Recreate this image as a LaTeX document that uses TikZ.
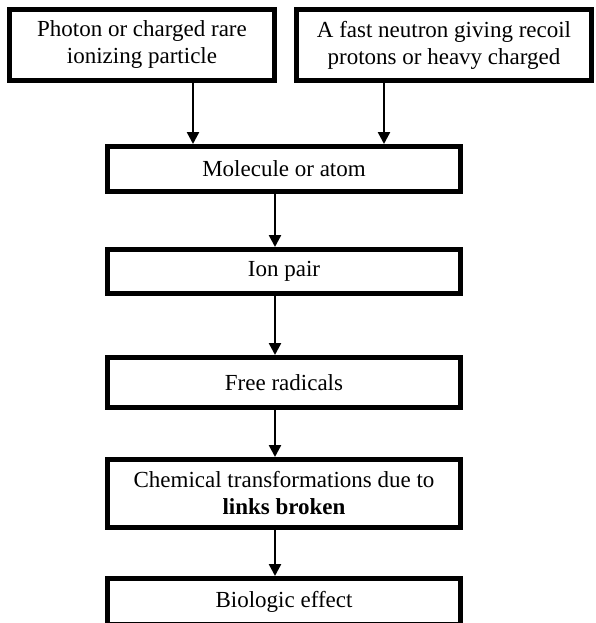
\documentclass[tikz,border=0pt]{standalone}
\usepackage{fontspec}
\setmainfont{Liberation Serif}
\usetikzlibrary{arrows.meta}
\begin{document}
\begin{tikzpicture}[x=1pt, y=-1pt,
    box/.style={draw, line width=5pt, inner sep=0pt, align=center,
        font=\fontsize{23}{27}\selectfont},
    flow/.style={line width=2.5pt, -{Triangle[width=12pt,length=12pt]}}]
    \useasboundingbox (0,0) rectangle (595,623);
    % sources
    \node[box, minimum width=265pt, minimum height=71pt] (photon) at (142,45)
        {Photon or charged rare\\ionizing particle};
    \node[box, minimum width=295pt, minimum height=71pt] (neutron) at (444,45)
        {A fast neutron giving recoil\\protons or heavy charged};
    % chain
    \node[box, minimum width=353pt, minimum height=45pt] (molecule) at (284,169) {Molecule or atom};
    \node[box, minimum width=353pt, minimum height=44pt] (ionpair) at (284,271.5) {Ion pair};
    \node[box, minimum width=353pt, minimum height=50pt] (radicals) at (284,382.5) {Free radicals};
    \node[box, minimum width=353pt, minimum height=68pt] (chemical) at (284,493.5)
        {Chemical transformations due to\\\textbf{links broken}};
    \node[box, minimum width=353pt, minimum height=46pt] (biologic) at (284,601.5) {Biologic effect};
    % arrows
    \coordinate (xa) at (193,0);
    \coordinate (xb) at (384,0);
    \coordinate (xc) at (275,0);
    \draw[flow] (photon.south -| xa) -- (molecule.north -| xa);
    \draw[flow] (neutron.south -| xb) -- (molecule.north -| xb);
    \draw[flow] (molecule.south -| xc) -- (ionpair.north -| xc);
    \draw[flow] (ionpair.south -| xc) -- (radicals.north -| xc);
    \draw[flow] (radicals.south -| xc) -- (chemical.north -| xc);
    \draw[flow] (chemical.south -| xc) -- (biologic.north -| xc);
\end{tikzpicture}
\end{document}
